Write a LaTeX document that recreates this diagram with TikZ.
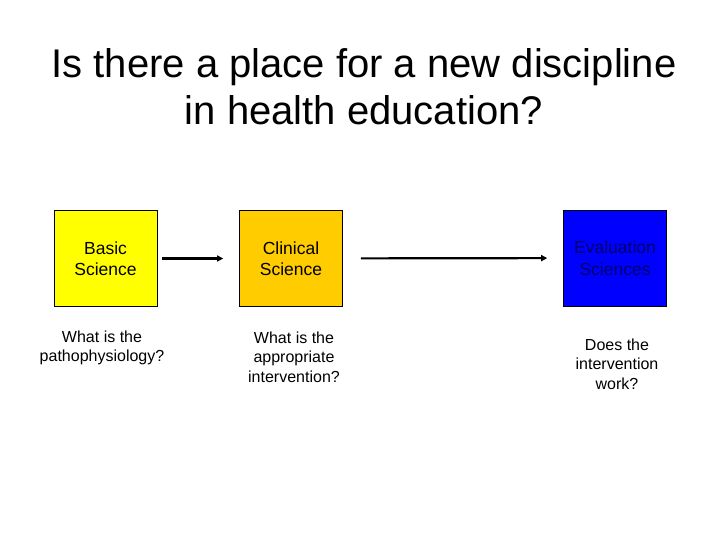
\documentclass[tikz,border=0pt]{standalone}
\usepackage{fontspec}
\setmainfont{Liberation Sans}
\usetikzlibrary{positioning,arrows.meta}

\definecolor{basicyellow}{HTML}{FFFF00}
\definecolor{clinicalorange}{HTML}{FFCC00}
\definecolor{evalblue}{HTML}{0000FF}
\definecolor{evaltext}{HTML}{000066}

\begin{document}
\begin{tikzpicture}[x=1pt, y=-1pt,
    box/.style={draw=black, line width=0.6pt, minimum width=103pt,
        minimum height=96pt, inner sep=0pt, align=center,
        font=\fontsize{17.5}{21.5}\selectfont},
    question/.style={align=center, font=\fontsize{16}{19.5}\selectfont},
    conn/.style={-{Triangle[length=6pt,width=6pt]}, line width=2.2pt}]
    % 全体の大きさ
    \useasboundingbox (0,0) rectangle (720,540);

    % タイトル
    \node[align=center, font=\fontsize{40}{47}\selectfont] (title) at (364,87)
    {Is there a place for a new discipline\\in health education?};

    % 三つの箱
    \node[box, fill=basicyellow] (basic) at (105.5,258.5) {Basic\\Science};
    \node[box, fill=clinicalorange] (clinical) at (291,258.5) {Clinical\\Science};
    \node[box, fill=evalblue, text=evaltext] (evaluation) at (615,258)
    {Evaluation\\Sciences};

    % 矢印
    \draw[conn, shorten <=5pt, shorten >=16pt] (basic) -- (clinical);
    \draw[conn, shorten <=18pt, shorten >=16pt] (clinical) -- (evaluation);

    % 問い
    \node[question] (q1) at (102,348) {What is the\\pathophysiology?};
    \node[question] (q2) at (294,357) {What is the\\appropriate\\intervention?};
    \node[question] (q3) at (617,364) {Does the\\intervention\\work?};

\end{tikzpicture}
\end{document}
